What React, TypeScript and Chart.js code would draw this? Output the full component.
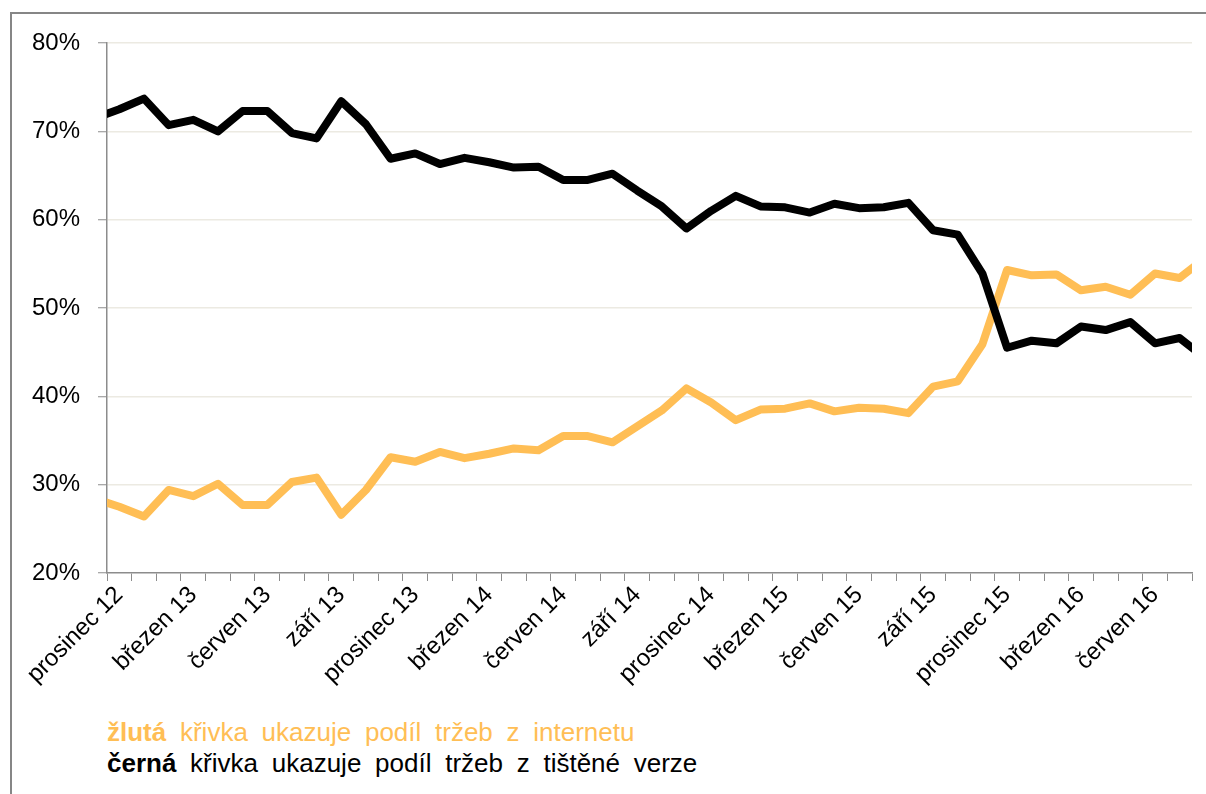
import React, { useEffect, useRef } from "react";
import { Chart, registerables } from "chart.js";

Chart.register(...registerables);

// Months: index 0 = listopad 12 (partly outside the plot), last = srpen 16 (partly outside)
const monthLabels = [
  "listopad 12", "prosinec 12",
  "leden 13", "únor 13", "březen 13", "duben 13", "květen 13", "červen 13",
  "červenec 13", "srpen 13", "září 13", "říjen 13", "listopad 13", "prosinec 13",
  "leden 14", "únor 14", "březen 14", "duben 14", "květen 14", "červen 14",
  "červenec 14", "srpen 14", "září 14", "říjen 14", "listopad 14", "prosinec 14",
  "leden 15", "únor 15", "březen 15", "duben 15", "květen 15", "červen 15",
  "červenec 15", "srpen 15", "září 15", "říjen 15", "listopad 15", "prosinec 15",
  "leden 16", "únor 16", "březen 16", "duben 16", "květen 16", "červen 16",
  "červenec 16", "srpen 16",
];

// share of revenue from the printed version (black)
const printShare = [
  71.5, 72.5, 73.7, 70.7, 71.3, 70.0, 72.3, 72.3, 69.8, 69.2, 73.4, 70.8,
  66.9, 67.5, 66.3, 67.0, 66.5, 65.9, 66.0, 64.5, 64.5, 65.2, 63.3, 61.5,
  59.0, 61.0, 62.7, 61.5, 61.4, 60.8, 61.8, 61.3, 61.4, 61.9, 58.8, 58.3,
  53.9, 45.5, 46.3, 46.0, 47.9, 47.5, 48.4, 46.0, 46.6, 44.4,
];

// share of revenue from the internet (yellow)
const webShare = [
  28.4, 27.5, 26.4, 29.4, 28.7, 30.1, 27.7, 27.7, 30.3, 30.8, 26.6, 29.4,
  33.1, 32.6, 33.7, 33.0, 33.5, 34.1, 33.9, 35.5, 35.5, 34.8, 36.6, 38.4,
  40.9, 39.3, 37.3, 38.5, 38.6, 39.2, 38.3, 38.7, 38.6, 38.1, 41.1, 41.7,
  45.9, 54.3, 53.7, 53.8, 52.0, 52.4, 51.5, 53.9, 53.4, 55.6,
];

const yTicks = [20, 30, 40, 50, 60, 70, 80];
const labelEvery = 3;
const firstShown = 1; // index of "prosinec 12" in monthLabels
const lastShown = monthLabels.length - 2; // index of "červenec 16"

const YELLOW = "#FFBE55";
const AXIS_GRAY = "#8C8C8C";
const GRID = "#ECEAE2";
const FONT = "'Liberation Sans', Arial, sans-serif";

export default function App() {
  const ref = useRef<HTMLCanvasElement | null>(null);

  useEffect(() => {
    if (!ref.current) return;
    const toPoints = (arr: number[]) =>
      arr.map((v, i) => ({ x: i - firstShown, y: v }));
    const nCats = lastShown - firstShown + 1;

    const chart = new Chart(ref.current, {
      type: "line",
      data: {
        datasets: [
          {
            label: "tištěná verze",
            data: toPoints(printShare),
            borderColor: "#000000",
            borderWidth: 8,
            pointRadius: 0,
            borderJoinStyle: "round",
            tension: 0,
            clip: 0,
            order: 0,
          },
          {
            label: "internet",
            data: toPoints(webShare),
            borderColor: YELLOW,
            borderWidth: 8,
            pointRadius: 0,
            borderJoinStyle: "round",
            tension: 0,
            clip: 0,
            order: 1,
          },
        ],
      },
      options: {
        responsive: false,
        animation: false,
        events: [],
        layout: { padding: { top: 43, right: 14, left: 0, bottom: 0 } },
        plugins: { legend: { display: false }, tooltip: { enabled: false } },
        scales: {
          x: {
            type: "linear",
            min: -0.5,
            max: nCats - 0.5,
            afterBuildTicks: (scale: any) => {
              scale.ticks = Array.from({ length: nCats + 1 }, (_, k) => ({
                value: k - 0.5,
              }));
            },
            afterFit: (scale: any) => {
              scale.height = 130;
              scale.paddingLeft = 0;
              scale.paddingRight = 0;
            },
            grid: {
              drawOnChartArea: false,
              drawTicks: true,
              tickLength: 8,
              tickColor: AXIS_GRAY,
              tickWidth: 1,
            },
            border: { display: true, color: AXIS_GRAY, width: 1.5 },
            ticks: {
              autoSkip: false,
              minRotation: 45,
              maxRotation: 45,
              labelOffset: 12.3,
              padding: 0,
              color: "#000",
              font: { family: FONT, size: 24 },
              callback: (value: any) => {
                const cat = Math.round(Number(value) + 0.5);
                if (cat % labelEvery === 0 && cat < nCats) {
                  return monthLabels[cat + firstShown];
                }
                return "";
              },
            },
          },
          y: {
            type: "linear",
            min: 20,
            max: 80,
            afterBuildTicks: (scale: any) => {
              scale.ticks = yTicks.map((v) => ({ value: v }));
            },
            afterFit: (scale: any) => {
              scale.width = 107;
            },
            grid: {
              color: (ctx: any) =>
                ctx.tick && ctx.tick.value === 20 ? "rgba(0,0,0,0)" : GRID,
              lineWidth: 1.5,
              tickColor: AXIS_GRAY,
              tickLength: 9,
              tickWidth: 1,
            },
            border: { display: true, color: AXIS_GRAY, width: 1.5 },
            ticks: {
              padding: 18,
              color: "#000",
              font: { family: FONT, size: 24 },
              callback: (v: any) => `${v}%`,
            },
          },
        },
      },
    } as any);
    return () => chart.destroy();
  }, []);

  return (
    <div
      style={{
        position: "fixed",
        left: 0,
        top: 0,
        width: 1206,
        height: 794,
        overflow: "hidden",
        background: "#fff",
      }}
    >
      <div
        style={{
          position: "absolute",
          left: 10,
          top: 12,
          width: 1400,
          height: 1000,
          borderLeft: "2px solid #868686",
          borderTop: "2px solid #868686",
        }}
      />
      <canvas
        ref={ref}
        width={1206}
        height={703}
        style={{ position: "absolute", left: 0, top: 0, width: 1206, height: 703 }}
      />
      <div
        style={{
          position: "absolute",
          left: 107,
          top: 717,
          fontFamily: FONT,
          fontSize: 26,
          lineHeight: "31px",
          whiteSpace: "nowrap",
          wordSpacing: 6.5,
        }}
      >
        <div style={{ color: YELLOW }}>
          <b>žlutá</b> křivka ukazuje podíl tržeb z internetu
        </div>
        <div style={{ color: "#000" }}>
          <b>černá</b> křivka ukazuje podíl tržeb z tištěné verze
        </div>
      </div>
    </div>
  );
}
